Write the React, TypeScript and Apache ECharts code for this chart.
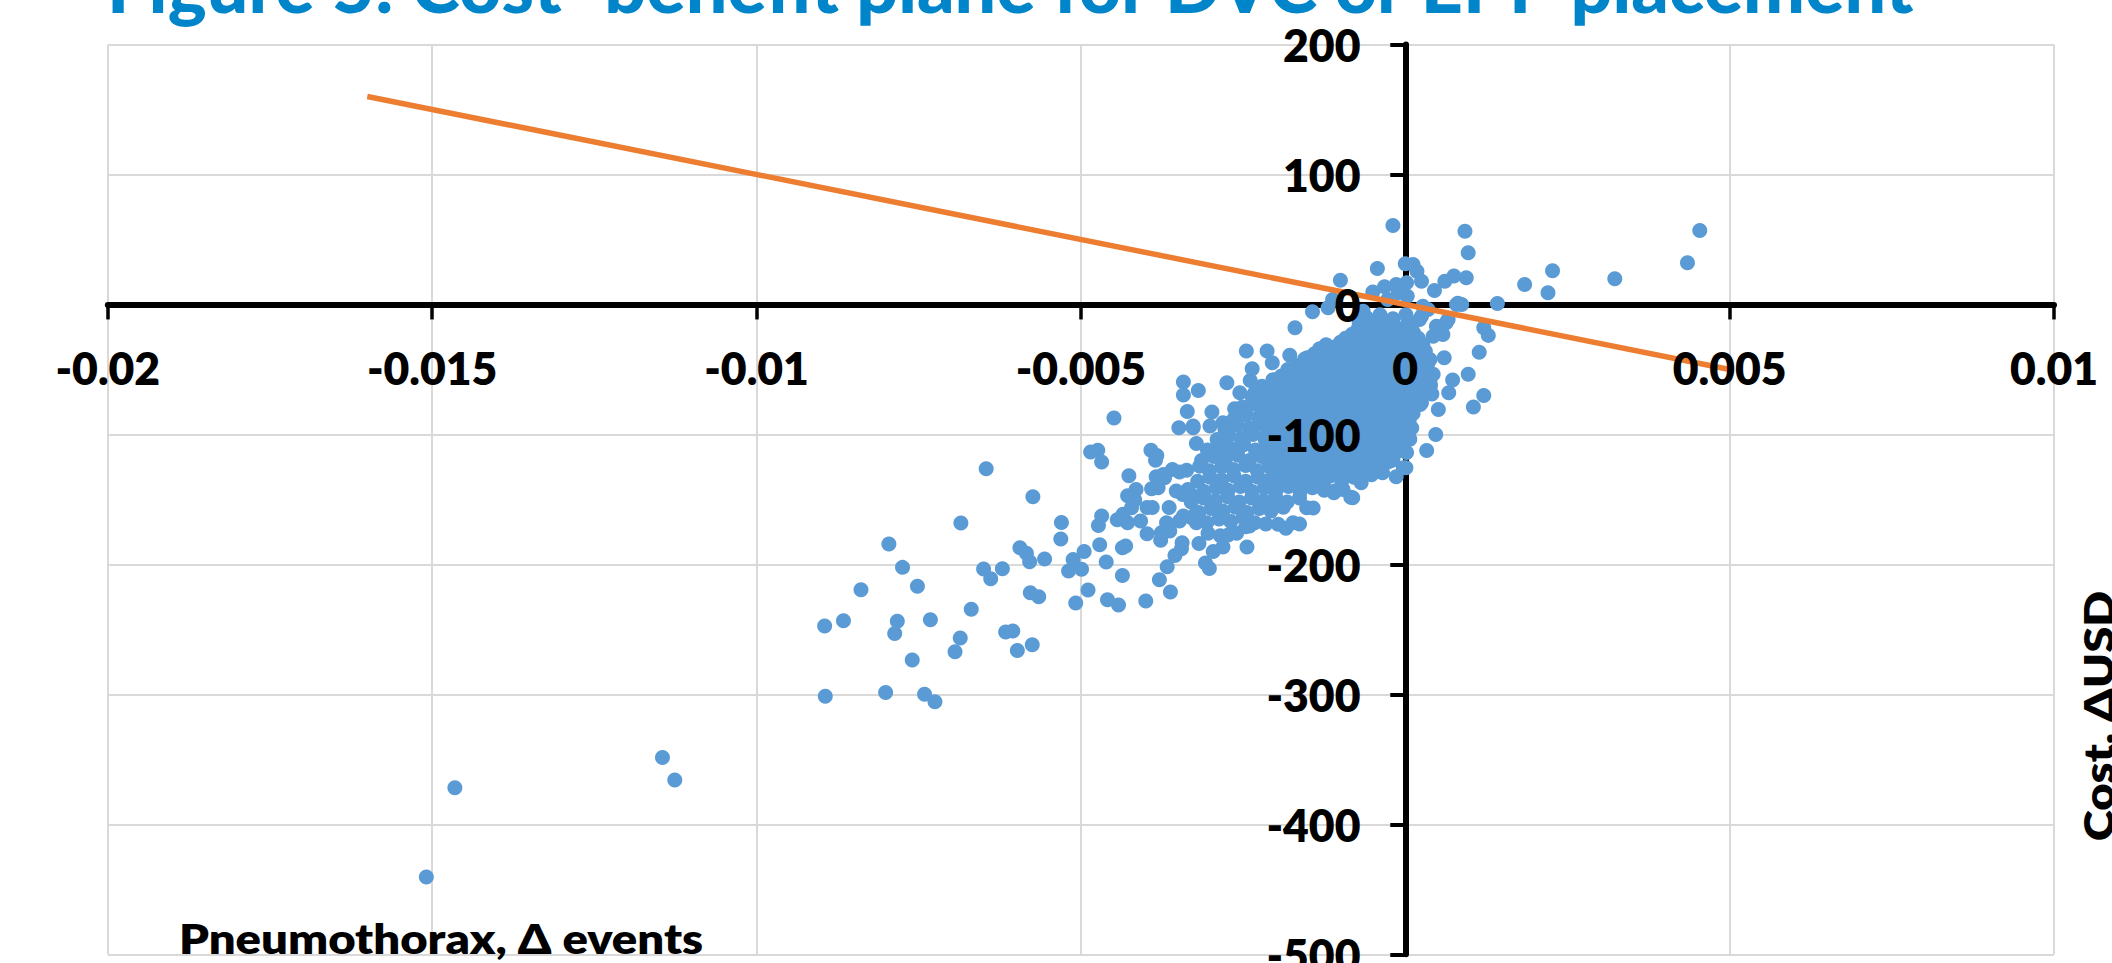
import React, { useEffect, useRef } from "react";
import * as echarts from "echarts";

const titleText = "Figure 5: Cost–benefit plane for DVC or EPP placement";
const xAxisLabel = "Pneumothorax, Δ events";
const yAxisLabel = "Cost, ΔUSD";

// [Δ events × 10^4, Δ cost USD]
const farOutliers = [[-114.5,-348.5],[-112.6,-365.9],[-146.5,-371.8],[-150.9,-440.5]];
const positiveDraws = [
  [45.4,56.9],[43.5,32],[32.3,19.8],[22.7,25.9],[22,9],[18.4,15.4],[14.2,0.8],[9.2,56.4],[9.7,39.7],
  [-1.9,60.8],[0,31.3],[1.2,30.8],[1.8,25.6],[2.5,17.9],[-4.3,27.7],[-10,18.7],[7.5,21.8],[9.4,20.5],
  [6.1,17.9],[4.5,10.8],[-5,9.5],[-3.2,13.6],[-1.4,15.4],[0.2,16.7],[0.3,6.4],[-2.7,3.8],[-1.1,9],
  [2.7,-1.3],[7.9,0],[8.7,0],[8.1,1],[-11.9,-2.5],[-11.2,3.8],[-14.3,-5.6],[-7,-11.5],[-6.5,-5.2],
  [2.2,-11.5],[12.1,-18],[12.8,-23.8],[4.3,-24.4],[5.8,-23.1],[4.8,-16.7],[6.3,-14],[6.6,-11.5],
  [2.5,-9],[3.5,-3.8],[-17,-18],[11.4,-36.7],[6,-41],[3.8,-42.3],[9.7,-53.8],[7.3,-58.2],[4,-53.8],
  [6.7,-68],[12.1,-70],[3.8,-65.4],[10.5,-79],[5.1,-80.8],[4.7,-100],[3.3,-112.3],[2.5,-75.6],[4.3,-53.8],
  [0.2,-114],[0.1,-125.6],[-1.4,-132.6],[0.7,-103.8],[-3.5,-129.5],[-1.9,-119],[-0.3,-125.7],
];
const tailDraws = [
  [-64.6,-126.4],[-57.4,-147.9],[-68.5,-168.2],[-53,-167.7],[-53.1,-180.5],[-79.6,-184.4],[-59.4,-187.2],
  [-58.4,-191.5],[-57.9,-198],[-55.6,-195.9],[-49.5,-190],[-47.1,-184.9],[-51.2,-196.2],[-51.9,-205.1],
  [-49.9,-203.8],[-46.1,-198.2],[-77.5,-202.3],[-65,-203.6],[-62.1,-203.3],[-63.9,-211],[-75.2,-216.9],
  [-83.9,-219.5],[-57.8,-221.8],[-56.5,-224.9],[-48.9,-219.7],[-50.8,-229.7],[-45.9,-227.2],[-44.2,-231.3],
  [-40,-228.2],[-36.2,-221.3],[-37.9,-211.8],[-43.6,-208.5],[-66.9,-234.6],[-73.2,-242.6],[-86.6,-243.3],
  [-89.5,-247.4],[-78.3,-243.8],[-78.7,-253.1],[-68.6,-256.7],[-61.6,-252],[-60.5,-251.3],[-57.5,-261.8],
  [-59.8,-266.2],[-69.4,-267.2],[-76,-273.6],[-80.1,-298.5],[-89.4,-301.5],[-74.1,-300],[-72.5,-305.6],
  [-44.9,-87.4],[-34.2,-59.7],[-34.2,-69.7],[-33.6,-82.3],[-34.9,-94.9],[-32.7,-93.6],[-32.2,-106.9],
  [-48.5,-113.6],[-47.4,-112.1],[-46.8,-121.3],[-39.2,-112.1],[-38.3,-116.2],[-38.5,-119.8],[-42.6,-131.8],
  [-41.5,-142.3],[-42.8,-147.2],[-41.7,-150.5],[-42.2,-156.4],[-43.5,-161.5],[-44.4,-165.6],[-42.8,-167.9],
  [-40.8,-166.7],[-46.8,-162.8],[-47.3,-170],[-39.8,-176.4],[-39.8,-156.2],[-39,-156.2],[-36.4,-156.2],
  [-37.7,-181.5],[-36.3,-174.4],[-37.6,-175.6],[-34.4,-183.3],[-34.5,-187.9],[-35.5,-193.1],[-36.7,-201.8],
  [-43.1,-185.9],[-43.6,-187.2],[-34.8,-166.7],[-36.8,-167.9],[-34.2,-162.8],[-38.4,-132.6],[-37.3,-130.8],
  [-35.9,-126.9],[-33.7,-127.5],[-34.8,-129],[-39.1,-141.8],[-38.1,-141],[-37.1,-133.3],[-35.3,-143.6],
  [-33.5,-142.3],[-32.7,-147.4],[-34.3,-146.2],[-32.2,-160],[-32.2,-167.9],[-33,-164],
  [-24.5,-35.9],[-21.3,-35.9],[-17.8,-39],[-20.5,-44.9],[-15.1,-41],[-23.6,-49.5],[-23.9,-58.5],[-27.5,-60.2],
  [-31.9,-66.2],[-25.5,-67.9],[-19.8,-57.7],[-26.3,-80.2],[-23.2,-67.9],[-22.2,-66.7],[-29.8,-82.8],
  [-32.7,-94.9],[-30.1,-93.6],[-28.1,-91],[-31.7,-124.4],
  [-30.2,-203.2],[-30.8,-199],[-24.4,-186.7],[-28.1,-186.7],[-27.3,-177.3],[-24.6,-171.1],[-21.5,-169],
  [-18.4,-172.2],[-16.3,-169],[-14.2,-156.7],[-8.4,-148.4],[-20.4,-156.7],[-8.1,-148.7],[-11,-144.9],
  [-12.9,-139.8],[-6.8,-137.2],[-15.2,-156.4],[-17.3,-167.9],[-19.6,-169.2],[-24,-170.5],[-10.9,-143.6],
  [-9.6,-142.3],
];
const clusterDraws = [
  [-7.1,-14],[-5,-16],[-3.1,-13],[-1.6,-17],[0.4,-14],
  [-8.2,-23],[-6,-21],[-4.3,-24],[-2.3,-21],[-0.6,-25],[1.3,-22],
  [-12.2,-31],[-10,-29],[-8.4,-32],[-6.4,-29],[-4.6,-31],[-2.7,-28],[-1,-32],[0.9,-30],[2.7,-31],
  [-14,-38],[-12.4,-40],[-10.3,-37],[-8.7,-39],[-6.6,-36],[-5,-40],[-3.1,-37],[-1.2,-40],[0.6,-37],[2.4,-39],[3.1,-36],
  [-16.6,-47],[-14.7,-45],[-13,-48],[-11,-45],[-9.3,-47],[-7.2,-44],[-5.6,-48],[-3.6,-45],[-1.9,-47],[0.1,-44],[1.9,-48],[3.5,-45],
  [-19.1,-55],[-17.1,-53],[-15.5,-56],[-13.4,-52],[-11.8,-55],[-9.7,-53],[-8.1,-56],[-6.1,-52],[-4.5,-55],[-2.4,-53],[-0.8,-56],[1.2,-52],[3,-55],
  [-22.1,-63],[-20,-61],[-18.3,-64],[-16.3,-60],[-14.6,-63],[-12.6,-61],[-10.9,-64],[-8.9,-60],[-7.2,-63],[-5.2,-61],[-3.5,-64],[-1.5,-60],[0.2,-63],[2.2,-61],[3.9,-62],
  [-23.6,-71],[-21.5,-69],[-19.8,-72],[-17.8,-68],[-16.1,-71],[-14.1,-69],[-12.4,-72],[-10.4,-68],[-8.7,-71],[-6.7,-69],[-5,-72],[-3,-68],[-1.3,-71],[0.7,-69],[2.4,-72],[4.1,-69],
  [-25.1,-79],[-23,-77],[-21.2,-80],[-19.3,-76],[-17.5,-79],[-15.6,-77],[-13.8,-80],[-11.9,-76],[-10.1,-79],[-8.2,-77],[-6.4,-80],[-4.5,-76],[-2.7,-79],[-0.8,-77],[1,-80],[2.3,-77],
  [-26.4,-88],[-24.5,-85],[-22.6,-87],[-20.8,-84],[-18.9,-88],[-17.1,-85],[-15.2,-87],[-13.4,-84],[-11.5,-88],[-9.7,-85],[-7.8,-87],[-6,-84],[-4.1,-88],[-2.3,-85],[-0.4,-87],[1.2,-84],
  [-27.8,-96],[-25.9,-93],[-24,-95],[-22.2,-92],[-20.3,-96],[-18.5,-93],[-16.6,-95],[-14.8,-92],[-12.9,-96],[-11.1,-93],[-9.2,-95],[-7.4,-92],[-5.5,-96],[-3.7,-93],[-1.8,-95],[0,-92],[1,-95],
  [-29,-104],[-27.2,-101],[-25.3,-103],[-23.5,-100],[-21.6,-104],[-19.8,-101],[-17.9,-103],[-16.1,-100],[-14.2,-104],[-12.4,-101],[-10.5,-103],[-8.7,-100],[-6.8,-104],[-5,-101],[-3.1,-103],[-1.3,-100],[0.5,-102],
  [-30.5,-112],[-28.6,-109],[-26.8,-111],[-24.9,-108],[-23.1,-112],[-21.2,-109],[-19.4,-111],[-17.5,-108],[-15.7,-112],[-13.8,-109],[-12,-111],[-10.1,-108],[-8.3,-112],[-6.4,-109],[-4.6,-111],[-2.7,-108],[-0.9,-112],
  [-31.4,-120],[-29.5,-117],[-27.7,-119],[-25.8,-116],[-24,-120],[-22.1,-117],[-20.3,-119],[-18.4,-116],[-16.6,-120],[-14.7,-117],[-12.9,-119],[-11,-116],[-9.2,-120],[-7.3,-117],[-5.5,-119],[-3.6,-116],[-2.1,-120],
  [-30.2,-128],[-28.3,-125],[-26.5,-127],[-24.6,-124],[-22.8,-128],[-20.9,-125],[-19.1,-127],[-17.2,-124],[-15.4,-128],[-13.5,-125],[-11.7,-127],[-9.8,-124],[-8,-128],[-6.1,-125],[-4.4,-127],
  [-32,-136],[-30.1,-133],[-28.3,-135],[-26.4,-132],[-24.6,-136],[-22.7,-133],[-20.9,-135],[-19,-132],[-17.2,-136],[-15.3,-133],[-13.5,-135],[-11.6,-132],[-9.8,-136],[-7.9,-133],
  [-31,-144],[-29.1,-141],[-27.3,-143],[-25.4,-140],[-23.6,-144],[-21.7,-141],[-19.9,-143],[-18,-140],[-16.2,-144],[-14.3,-141],[-12.5,-143],
  [-33,-152],[-31.1,-149],[-29.3,-151],[-27.4,-148],[-25.6,-152],[-23.7,-149],[-21.9,-151],[-20,-148],[-18.2,-152],[-16.3,-149],
  [-31.8,-160],[-29.9,-157],[-28.1,-159],[-26.2,-156],[-24.4,-160],[-22.5,-157],[-20.7,-159],[-18.8,-156],
  [-30.6,-168],[-28.7,-165],[-26.9,-167],[-25,-164],[-23.2,-168],
  [-30.4,-176],[-28.5,-178],[-31.8,-184],[-29.6,-190],[-26,-176],
];
const denseCoreDraws = [
  [-6,-10],[-3.9,-8],[-1.9,-11],[0.1,-8],[-7.2,-18],[-4.9,-19],[-2.9,-18],[-0.9,-19],[1,-17],
  [-11,-34],[-9.2,-26],[-7.3,-26],[-5.3,-26],[-3.4,-25],[-1.6,-26],[0.3,-26],[2,-26],
  [-13.2,-34],[-11.3,-33],[-9.5,-34],[-7.5,-33],[-5.7,-34],[-3.8,-33],[-1.9,-35],[0,-34],[1.8,-33],
  [-15.5,-42],[-13.6,-42],[-11.7,-41],[-9.9,-43],[-8,-41],[-6.2,-43],[-4.3,-41],[-2.5,-43],[-0.6,-41],[1.3,-43],[2.9,-41],
  [-18.1,-50],[-16,-50],[-14.1,-49],[-12.2,-51],[-10.4,-49],[-8.5,-51],[-6.7,-49],[-4.8,-51],[-3,-49],[-1.1,-51],[0.7,-49],[2.5,-51],
  [-20.4,-58],[-18.5,-58],[-16.5,-57],[-14.7,-59],[-12.8,-57],[-11,-59],[-9.1,-57],[-7.3,-59],[-5.4,-57],[-3.6,-59],[-1.7,-57],[0.2,-59],[2,-57],[3.8,-58],
  [-21.2,-65],[-19.3,-67],[-17.4,-65],[-15.6,-67],[-13.7,-65],[-11.9,-67],[-10,-65],[-8.2,-67],[-6.3,-65],[-4.5,-67],[-2.6,-65],[-0.8,-67],[1.1,-65],[3,-66],
  [-22.6,-74],[-20.7,-75],[-18.8,-73],[-17,-75],[-15.1,-73],[-13.3,-75],[-11.4,-73],[-9.6,-75],[-7.7,-73],[-5.9,-75],[-4,-73],[-2.2,-75],[-0.3,-73],[1.6,-74],
  [-22.1,-83],[-20.2,-81],[-18.4,-83],[-16.5,-81],[-14.7,-83],[-12.8,-81],[-11,-83],[-9.1,-81],[-7.3,-83],[-5.4,-81],[-3.6,-83],[-1.7,-81],[0.2,-82],
  [-21.6,-89],[-19.8,-91],[-17.9,-89],[-16.1,-91],[-14.2,-89],[-12.4,-91],[-10.5,-89],[-8.7,-91],[-6.8,-89],[-5,-91],[-3.1,-89],[-1.3,-91],[0.6,-89],
  [-21.3,-99],[-19.4,-97],[-17.6,-99],[-15.7,-97],[-13.9,-99],[-12,-97],[-10.2,-99],[-8.3,-97],[-6.5,-99],[-4.6,-97],[-2.8,-99],[-0.9,-97],
  [-20.7,-105],[-18.8,-107],[-17,-105],[-15.1,-107],[-13.3,-105],[-11.4,-107],[-9.6,-105],[-7.7,-107],[-5.9,-105],[-4,-107],[-2.2,-105],[-0.4,-107],
  [-22.1,-113],[-20.2,-115],[-18.4,-113],[-16.5,-115],[-14.7,-113],[-12.8,-115],[-11,-113],[-9.1,-115],[-7.3,-113],[-5.4,-115],[-3.6,-113],[-1.7,-115],
  [-21.1,-121],[-19.2,-123],[-17.4,-121],[-15.5,-123],[-13.7,-121],[-11.8,-123],[-10,-121],[-8.1,-123],[-6.3,-121],[-4.4,-123],[-2.6,-121],
  [-20,-131],[-18.1,-129],[-16.3,-131],[-14.4,-129],[-12.6,-131],[-10.7,-129],[-8.9,-131],[-7,-129],[-5.2,-131],
  [-20,-137],[-18.1,-139],[-16.3,-137],[-14.4,-139],[-12.6,-137],
];
const breakEvenLine = [[-160,160],[50,-50]];

const eventUnit = 0.0001;
const toEvents = (rows: number[][]) => rows.map(([x, y]) => [x * eventUnit, y]);
const drawPoints = [...farOutliers, ...positiveDraws, ...tailDraws, ...clusterDraws, ...denseCoreDraws];

const gridColor = "#D9D9D9";

export default function App() {
  const ref = useRef<HTMLDivElement>(null);
  useEffect(() => {
    const chart = echarts.init(ref.current!, undefined, { renderer: "svg" });
    const xBase = { type: "value", min: -0.02, max: 0.01, interval: 0.005, position: "bottom" };
    const yBase = { type: "value", min: -500, max: 200, interval: 100, position: "left" };
    const labelStyle = { color: "#000", fontFamily: "Lato", fontWeight: 800, fontSize: 44.5 };
    chart.setOption({
      animation: false,
      backgroundColor: "#fff",
      grid: { left: 107.8, right: 58, top: 44.5, bottom: 8.7, containLabel: false, outerBoundsMode: "none" },
      xAxis: [
        {
          ...xBase,
          axisLine: { onZero: true, lineStyle: { color: "#000", width: 6 } },
          axisTick: { show: true, length: 15, lineStyle: { color: "#000", width: 3.5 } },
          axisLabel: { show: false },
          splitLine: { show: true, lineStyle: { color: gridColor, width: 2 } },
        },
        {
          ...xBase,
          z: 6,
          offset: -649.3,
          axisLine: { show: false, onZero: false },
          axisTick: { show: false },
          axisLabel: { show: true, margin: 40, ...labelStyle },
          splitLine: { show: false },
        },
      ],
      yAxis: [
        {
          ...yBase,
          axisLine: { onZero: true, lineStyle: { color: "#000", width: 6 } },
          axisTick: { show: true, length: 15, lineStyle: { color: "#000", width: 4 } },
          axisLabel: { show: false },
          splitLine: { show: true, lineStyle: { color: gridColor, width: 2 } },
        },
        {
          ...yBase,
          z: 6,
          offset: -1297.7,
          axisLine: { show: false, onZero: false },
          axisTick: { show: false },
          axisLabel: { show: true, margin: 45, ...labelStyle },
          splitLine: { show: false },
        },
      ],
      series: [
        {
          type: "scatter",
          data: toEvents(drawPoints),
          symbol: "circle",
          symbolSize: 15,
          itemStyle: { color: "#5B9BD5", opacity: 1 },
          z: 3,
        },
        {
          type: "line",
          data: toEvents(breakEvenLine),
          showSymbol: false,
          lineStyle: { color: "#ED7D31", width: 5.5 },
          z: 4,
        },
      ],
      graphic: [
        {
          type: "text",
          x: 107,
          y: 21.5,
          z: 10,
          style: {
            text: titleText,
            fill: "#0085CA",
            font: "900 73.5px Lato",
            textAlign: "left",
            textVerticalAlign: "bottom",
          },
        },
        {
          type: "text",
          x: 441,
          y: 938,
          z: 10,
          scaleX: 1.125,
          style: {
            text: xAxisLabel,
            fill: "#000",
            font: "800 42px Lato",
            textAlign: "center",
            textVerticalAlign: "middle",
          },
        },
        {
          type: "text",
          x: 2098,
          y: 716,
          z: 10,
          rotation: Math.PI / 2,
          scaleX: 1.125,
          style: {
            text: yAxisLabel,
            fill: "#000",
            font: "800 42px Lato",
            textAlign: "center",
            textVerticalAlign: "middle",
          },
        },
      ],
    });
    return () => chart.dispose();
  }, []);
  return (
    <div
      ref={ref}
      style={{ position: "absolute", left: 0, top: 0, width: 2112, height: 963 }}
    />
  );
}
